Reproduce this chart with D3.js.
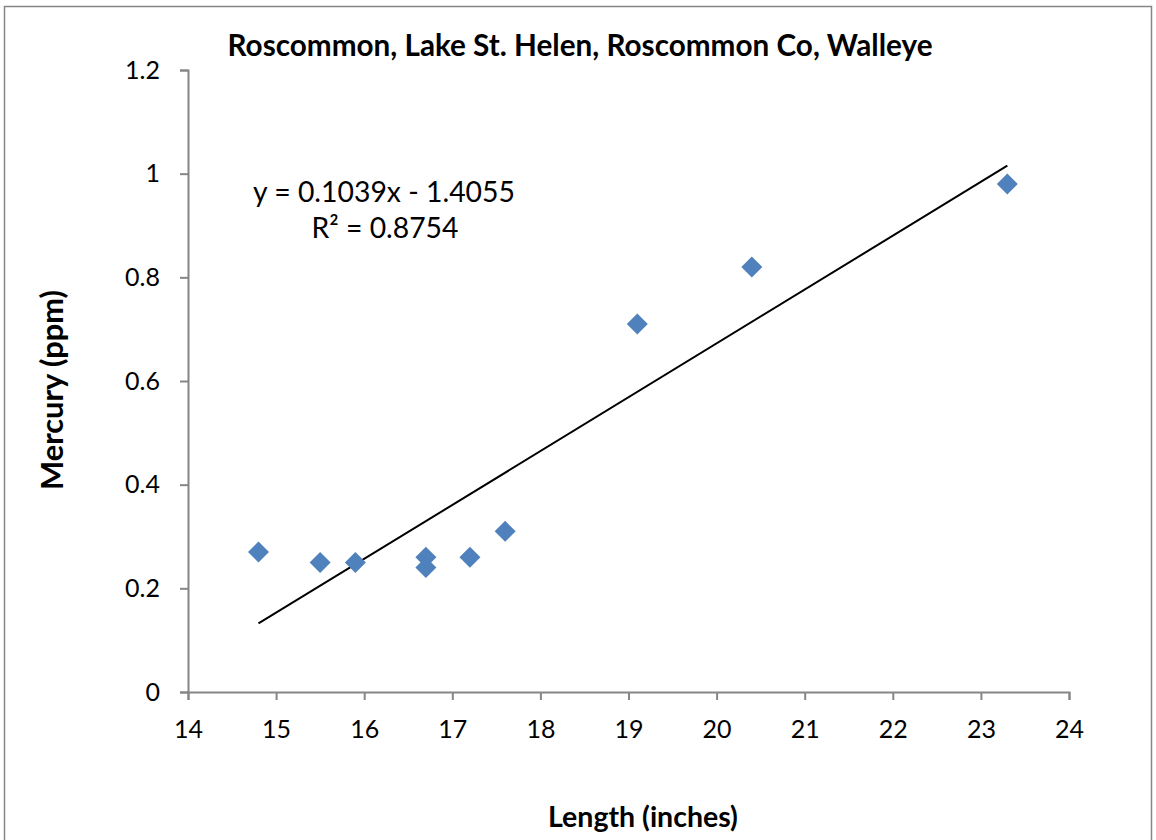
<!DOCTYPE html>
<html lang="en">
<head>
  <meta charset="UTF-8">
  <title>Roscommon, Lake St. Helen, Walleye</title>
  <script src="https://d3js.org/d3.v7.min.js"></script>
  <style>
    body { margin: 0; background: white; font-family: Lato, "Open Sans", sans-serif; }
    svg text { fill: #000; font-family: Lato, "Open Sans", sans-serif; }
  </style>
</head>
<body>
  <svg id="chart" width="1156" height="840"></svg>
  <script>
    const lengths = [14.8, 15.5, 15.9, 16.7, 16.7, 17.2, 17.6, 19.1, 20.4, 23.3];
    const mercury = [0.27, 0.25, 0.25, 0.26, 0.24, 0.26, 0.31, 0.71, 0.82, 0.98];
    const xTicks = [14, 15, 16, 17, 18, 19, 20, 21, 22, 23, 24];
    const yTicks = [0, 0.2, 0.4, 0.6, 0.8, 1, 1.2];
    const slope = 0.1039, intercept = -1.4055;
    const trendX = [14.8, 23.3];

    const svg = d3.select("#chart");
    const margin = {top: 70, right: 87, bottom: 148, left: 188};
    const width = 1156 - margin.left - margin.right,
      height = 840 - margin.top - margin.bottom;

    // scale a label's font so it spans about the same width as in the original
    function fitText(sel, targetWidth, startSize) {
      sel.style("font-size", startSize + "px");
      const w = sel.node().getComputedTextLength();
      if (w > 0) sel.style("font-size", (startSize * targetWidth / w).toFixed(2) + "px");
      return sel;
    }

    // outer chart border
    svg.append("rect")
      .attr("x", 4.5).attr("y", 6.5)
      .attr("width", 1147).attr("height", 850)
      .attr("fill", "none").attr("stroke", "#868686").attr("stroke-width", 1.5);

    const g = svg.append("g").attr("transform", `translate(${margin.left},${margin.top})`);

    const x = d3.scaleLinear().domain([14, 24]).range([0, width]);
    const y = d3.scaleLinear().domain([0, 1.2]).range([height, 0]);

    const xAxis = g.append("g")
      .attr("transform", `translate(0,${height})`)
      .call(d3.axisBottom(x).tickValues(xTicks).tickSize(8).tickPadding(20).tickFormat(d3.format("d")));
    const yAxis = g.append("g")
      .call(d3.axisLeft(y).tickValues(yTicks).tickSize(8).tickPadding(20).tickFormat(d => d === 0 || d === 1 ? d : d.toFixed(1)));

    [xAxis, yAxis].forEach(a => {
      a.select(".domain").attr("stroke", "#868686").attr("stroke-width", 2);
      a.selectAll(".tick line").attr("stroke", "#868686").attr("stroke-width", 2);
      a.selectAll("text").style("font-size", "25px").style("font-family", "Lato, sans-serif");
    });

    // trendline
    g.append("line")
      .attr("x1", x(trendX[0])).attr("y1", y(slope * trendX[0] + intercept))
      .attr("x2", x(trendX[1])).attr("y2", y(slope * trendX[1] + intercept))
      .attr("stroke", "#000").attr("stroke-width", 2);

    // diamond markers
    const pts = lengths.map((v, i) => ({len: v, hg: mercury[i]}));
    g.selectAll(".pt")
      .data(pts)
      .enter().append("path")
      .attr("class", "pt")
      .attr("d", "M0,-10.5L10.5,0L0,10.5L-10.5,0Z")
      .attr("transform", d => `translate(${x(d.len)},${y(d.hg)})`)
      .attr("fill", "#4F81BD");

    // equation label
    fitText(svg.append("text")
      .attr("x", 384).attr("y", 202)
      .attr("text-anchor", "middle")
      .text("y = 0.1039x - 1.4055"), 262, 26);
    fitText(svg.append("text")
      .attr("x", 385).attr("y", 238)
      .attr("text-anchor", "middle")
      .text("R² = 0.8754"), 147, 26);

    // title
    fitText(svg.append("text")
      .attr("x", 580).attr("y", 56)
      .attr("text-anchor", "middle")
      .style("font-weight", "bold")
      .text("Roscommon, Lake St. Helen, Roscommon Co, Walleye"), 705, 26);

    // axis titles
    fitText(svg.append("text")
      .attr("x", 643).attr("y", 827)
      .attr("text-anchor", "middle")
      .style("font-weight", "bold")
      .text("Length (inches)"), 190, 27);
    fitText(svg.append("text")
      .attr("transform", "translate(63,390) rotate(-90)")
      .attr("text-anchor", "middle")
      .style("font-weight", "bold")
      .text("Mercury (ppm)"), 200, 27);
  </script>
</body>
</html>
